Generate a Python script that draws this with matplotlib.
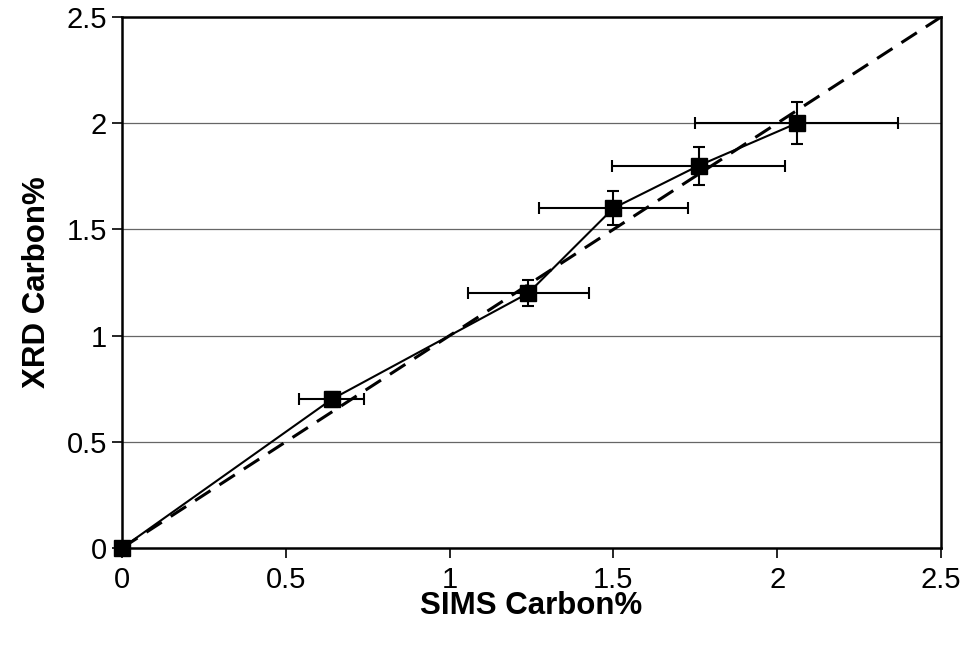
import matplotlib
matplotlib.use('Agg')
import matplotlib.pyplot as plt

plt.rcParams['font.family'] = ['Liberation Sans', 'DejaVu Sans']

# Datos
sims = [0, 0.64, 1.24, 1.50, 1.76, 2.06]
xrd = [0, 0.70, 1.20, 1.60, 1.80, 2.00]
sims_err = [0, 0.10, 0.185, 0.227, 0.264, 0.31]
xrd_err = [0, 0.035, 0.06, 0.08, 0.09, 0.10]
ref_line = [0, 2.5]  # linea y = x
ticks = [0, 0.5, 1, 1.5, 2, 2.5]

fig = plt.figure(figsize=(9.67, 6.45), dpi=100)
ax = fig.add_axes([0.1262, 0.1504, 0.8469, 0.8232])

# lineas de cuadricula horizontales
for t in ticks[1:-1]:
    ax.axhline(t, color='#666666', lw=0.9, zorder=0)

# linea y = x discontinua
ax.plot(ref_line, ref_line, color='black', lw=2.2, ls=(0, (6, 3.5)), zorder=2)

# datos con barras de error
ax.errorbar(sims, xrd, xerr=sims_err, yerr=xrd_err, color='black', lw=1.5,
            elinewidth=1.5, capsize=4, capthick=1.5, marker='s', markersize=11,
            zorder=3, clip_on=False)

ax.set_xlim(0, 2.5)
ax.set_ylim(0, 2.5)
ax.set_xticks(ticks)
ax.set_yticks(ticks)
ax.set_xticklabels(['0', '0.5', '1', '1.5', '2', '2.5'])
ax.set_yticklabels(['0', '0.5', '1', '1.5', '2', '2.5'])
ax.tick_params(direction='out', length=7, width=1.2, labelsize=21)
ax.tick_params(axis='x', pad=6)
ax.tick_params(axis='y', pad=4)

for s in ax.spines.values():
    s.set_linewidth(1.8)
    s.set_color('black')

ax.set_xlabel('SIMS Carbon%', fontsize=22.5, fontweight='bold', labelpad=-2)
ax.set_ylabel('XRD Carbon%', fontsize=22.5, fontweight='bold', labelpad=10)

fig.savefig('out.png', dpi=100)
